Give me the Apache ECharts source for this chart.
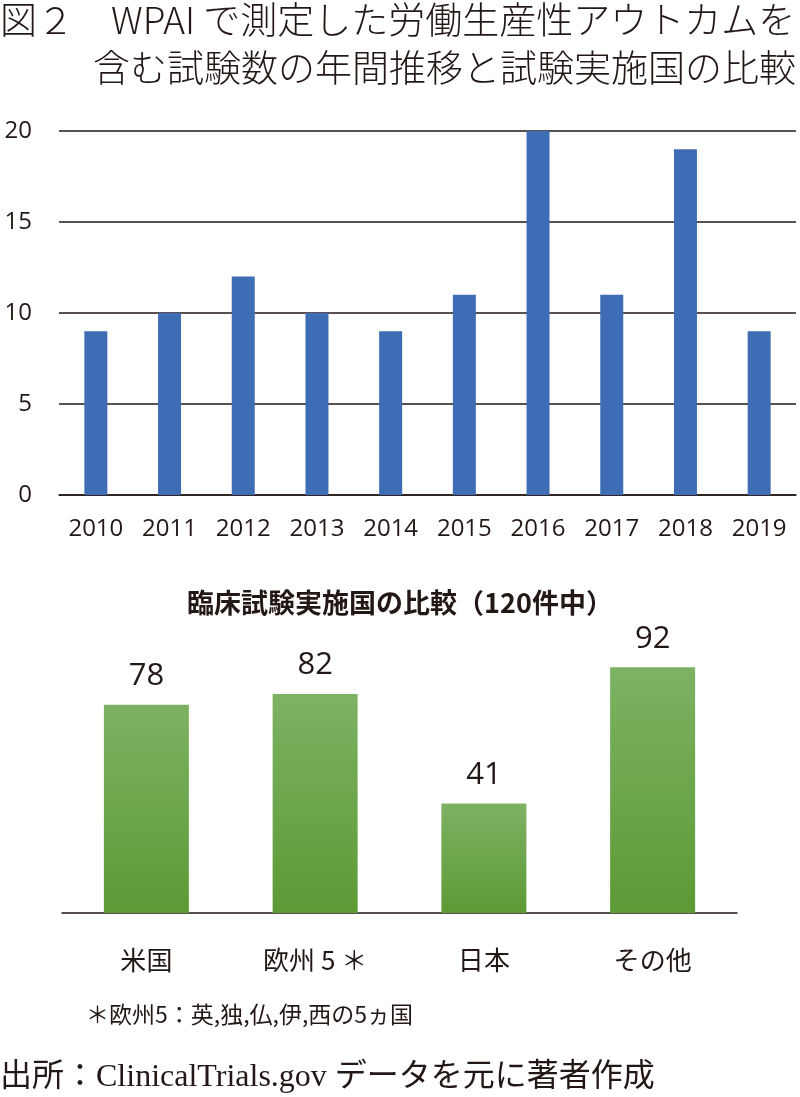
<!DOCTYPE html>
<html><head><meta charset="utf-8">
<script src="https://cdn.jsdelivr.net/npm/echarts@6/dist/echarts.min.js"></script>
<style>html,body{margin:0;padding:0;background:#fff}#c{width:800px;height:1097px}</style>
</head><body><div id="c"></div>
<script>
const years = ['2010','2011','2012','2013','2014','2015','2016','2017','2018','2019'];
const trials = [9,10,12,10,9,11,20,11,19,9];
const yTicks = [0,5,10,15,20];
const regions = ['米国','欧州 5 ＊','日本','その他'];
const regionCounts = [78,82,41,92];

const cjk = '"Noto Sans CJK JP", "Noto Sans", sans-serif';
const num = '"Open Sans", "Noto Sans", sans-serif';
const chart = echarts.init(document.getElementById('c'));
chart.setOption({
  animation:false,
  backgroundColor:'#fff',
  textStyle:{fontFamily:cjk},
  title:{text:'臨床試験実施国の比較（120件中）',left:'center',top:584,
    textStyle:{fontSize:27,fontWeight:'bold',color:'#231815',fontFamily:cjk}},
  graphic:[
    {type:'text',left:0,top:1,style:{text:'図２　WPAI で測定した労働生産性アウトカムを',font:'300 37px "Noto Sans CJK JP"',fill:'#231815'}},
    {type:'text',right:4,top:49,style:{text:'含む試験数の年間推移と試験実施国の比較',font:'300 37px "Noto Sans CJK JP"',fill:'#231815'}},
    {type:'text',left:86,top:1003,style:{text:'＊欧州5：英,独,仏,伊,西の5ヵ国',font:'23px "Noto Sans CJK JP"',fill:'#231815'}},
    {type:'text',left:0,top:1062,style:{text:'出所：ClinicalTrials.gov データを元に著者作成',font:'32px "Liberation Serif", "Noto Sans CJK JP"',fill:'#231815'}}
  ],
  grid:[
    {left:59,width:737,top:131,height:364},
    {left:62,width:675,top:646,height:267}
  ],
  xAxis:[
    {gridIndex:0,type:'category',data:years,axisTick:{show:false},
     axisLine:{lineStyle:{color:'#231815',width:1.5}},
     axisLabel:{fontSize:24,color:'#231815',margin:22,fontFamily:num}},
    {gridIndex:1,type:'category',data:regions,axisTick:{show:false},
     axisLine:{lineStyle:{color:'#231815',width:1.5}},
     axisLabel:{fontSize:26,color:'#231815',margin:34}}
  ],
  yAxis:[
    {gridIndex:0,type:'value',min:yTicks[0],max:yTicks[yTicks.length-1],interval:5,
     axisLine:{show:false},axisTick:{show:false},
     axisLabel:{fontSize:24,color:'#231815',margin:27,fontFamily:num},
     splitLine:{lineStyle:{color:'#231815',width:1.5}}},
    {gridIndex:1,type:'value',min:0,max:100,show:false,splitLine:{show:false}}
  ],
  series:[
    {type:'bar',xAxisIndex:0,yAxisIndex:0,data:trials,barWidth:23,
     itemStyle:{color:'#3F6DB5'}},
    {type:'bar',xAxisIndex:1,yAxisIndex:1,data:regionCounts,barWidth:85,
     itemStyle:{color:new echarts.graphic.LinearGradient(0,0,0,1,[{offset:0,color:'#7DB263'},{offset:1,color:'#5C9A35'}])},
     label:{show:true,position:'top',distance:13,fontSize:31,color:'#231815',fontFamily:num}}
  ]
});
</script></body></html>
